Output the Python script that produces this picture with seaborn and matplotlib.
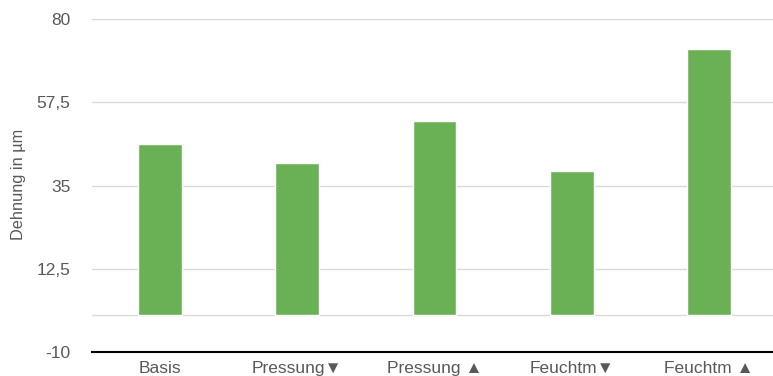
import matplotlib
matplotlib.use("Agg")
import matplotlib.pyplot as plt
import seaborn as sns
import pandas as pd

# Messwerte der Dehnung je Versuchsvariante
categories = ["Basis", "Pressung\u25BC", "Pressung \u25B2", "Feuchtm\u25BC", "Feuchtm \u25B2"]
dehnung = [46.2, 41.1, 52.4, 38.9, 72.0]
y_ticks = [-10, 12.5, 35, 57.5, 80]
y_label = "Dehnung in µm"

sns.set_theme(style="white")
plt.rcParams["font.family"] = ["Liberation Sans", "DejaVu Sans"]

df = pd.DataFrame({"Variante": categories, "Dehnung": dehnung})

fig = plt.figure(figsize=(7.73, 3.76), dpi=100)
ax = fig.add_axes([91.5 / 773, 24 / 376, 686 / 773, 333 / 376])

sns.barplot(data=df, x="Variante", y="Dehnung", order=categories,
            color="#6ab155", saturation=1, width=0.32, ax=ax, zorder=3)

ax.set_xlim(-0.5, len(categories) - 0.5)
ax.set_ylim(y_ticks[0], y_ticks[-1])
ax.set_yticks(y_ticks)
ax.set_yticklabels([f"{t:g}".replace(".", ",") for t in y_ticks])

# Horizontale Hilfslinien inkl. Nulllinie
for t in y_ticks[1:] + [0]:
    ax.axhline(t, color="#d9d9d9", lw=1.0, zorder=1)

for s in ["top", "right", "left"]:
    ax.spines[s].set_visible(False)
ax.spines["bottom"].set_color("#000000")
ax.spines["bottom"].set_linewidth(1.5)

ax.tick_params(axis="y", length=0, pad=15, labelsize=12.5, labelcolor="#595959")
ax.tick_params(axis="x", length=0, pad=6.5, labelsize=12.5, labelcolor="#595959")
ax.set_xlabel("")
ax.set_ylabel(y_label, fontsize=11.8, color="#595959")
ax.yaxis.set_label_coords((26 - 91.5) / 686, (352 - 184) / 333)

fig.savefig("out.png", dpi=100)
